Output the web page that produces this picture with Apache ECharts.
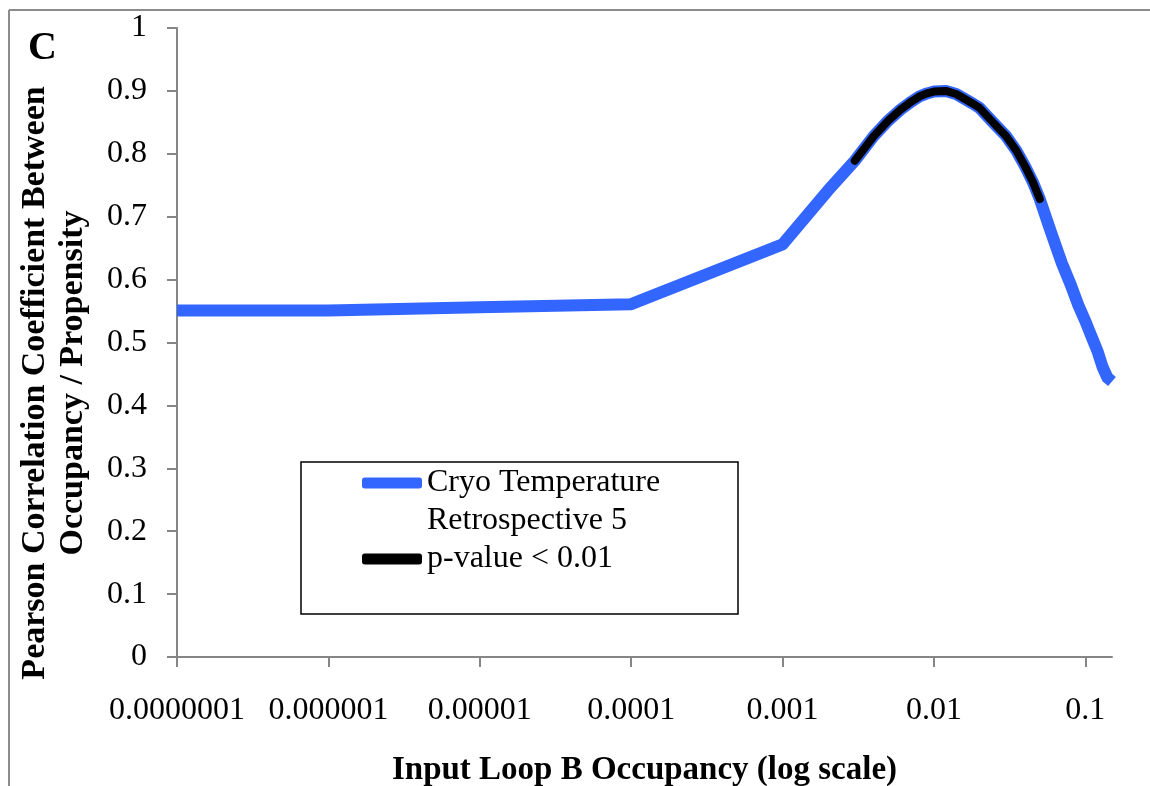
<!DOCTYPE html>
<html>
<head>
<meta charset="utf-8">
<script src="https://cdn.jsdelivr.net/npm/echarts@6.0.0/dist/echarts.min.js"></script>
<style>
  html, body { margin: 0; padding: 0; background: #fff; }
  #chart { width: 1150px; height: 786px; }
</style>
</head>
<body>
<div id="chart"></div>
<script>
// input loop B occupancy (log axis) and the pearson correlation
const occupancy = [1e-7, 1e-6, 1e-5, 1e-4, 1e-3, 0.002, 0.003, 0.004, 0.005, 0.006, 0.007, 0.008, 0.009,
  0.01, 0.012, 0.014, 0.016, 0.018, 0.02, 0.025, 0.03, 0.035, 0.04, 0.045, 0.05,
  0.06, 0.07, 0.08, 0.09, 0.1, 0.11, 0.12, 0.13, 0.14, 0.15];
const correlation = [0.551, 0.551, 0.556, 0.561, 0.656, 0.742, 0.789, 0.828, 0.853, 0.870, 0.882, 0.891, 0.896,
  0.899, 0.900, 0.895, 0.887, 0.880, 0.873, 0.848, 0.828, 0.805, 0.780, 0.755, 0.728,
  0.672, 0.626, 0.592, 0.559, 0.534, 0.509, 0.487, 0.461, 0.444, 0.438];
// range where p-value < 0.01
const sigFrom = 0.003;
const sigTo = 0.05;

const xTicks = [1e-7, 1e-6, 1e-5, 1e-4, 1e-3, 1e-2, 1e-1];
const xTickLabels = ['0.0000001', '0.000001', '0.00001', '0.0001', '0.001', '0.01', '0.1'];

const seriesNames = ['Cryo Temperature\nRetrospective 5', 'p-value < 0.01'];
const seriesColors = ['#3366ff', '#000000'];

const FONT = '"Liberation Serif", "DejaVu Serif", serif';
const AXIS_GREY = '#868686';

const mainData = occupancy.map((x, i) => [x, correlation[i]]);
const sigData = mainData.filter(d => d[0] >= sigFrom - 1e-12 && d[0] <= sigTo + 1e-12);

const chart = echarts.init(document.getElementById('chart'));

chart.setOption({
  backgroundColor: '#fff',
  animation: false,
  grid: { left: 177, right: 38, top: 28, bottom: 129, outerBoundsMode: 'none', containLabel: false },
  xAxis: {
    type: 'log',
    logBase: 10,
    min: 1e-7,
    max: 0.15,
    name: 'Input Loop B Occupancy (log scale)',
    nameLocation: 'middle',
    nameGap: 97,
    nameTextStyle: { fontFamily: FONT, fontSize: 33, fontWeight: 'bold', color: '#000' },
    axisLine: { show: true, onZero: false, lineStyle: { color: AXIS_GREY, width: 2 } },
    axisTick: { show: true, length: 10, customValues: xTicks, lineStyle: { color: AXIS_GREY, width: 2 } },
    axisLabel: {
      customValues: xTicks,
      margin: 38,
      fontFamily: FONT, fontSize: 32, color: '#000',
      formatter: v => xTickLabels[Math.round(Math.log10(v)) + 7]
    },
    splitLine: { show: false }
  },
  yAxis: {
    type: 'value',
    min: 0,
    max: 1,
    interval: 0.1,
    axisLine: { show: true, lineStyle: { color: AXIS_GREY, width: 2 } },
    axisTick: { show: true, length: 10, lineStyle: { color: AXIS_GREY, width: 2 } },
    axisLabel: {
      margin: 30,
      fontFamily: FONT, fontSize: 32, color: '#000',
      formatter: v => String(Math.round(v * 10) / 10)
    },
    splitLine: { show: false }
  },
  legend: {
    orient: 'vertical',
    left: 362,
    top: 426,
    padding: 0,
    itemGap: 0,
    itemWidth: 60,
    itemHeight: 11,
    icon: 'roundRect',
    // leading blank line keeps the icon level with the first line of a two-line name
    formatter: name => name.indexOf('\n') >= 0 ? '\n' + name : name,
    textStyle: { fontFamily: FONT, fontSize: 32, lineHeight: 38, color: '#000' },
    data: seriesNames
  },
  graphic: [
    { type: 'line', shape: { x1: 9, y1: 10, x2: 9, y2: 786 }, style: { stroke: '#8c8c8c', lineWidth: 2 } },
    { type: 'line', shape: { x1: 9, y1: 10, x2: 1150, y2: 10 }, style: { stroke: '#8c8c8c', lineWidth: 2 } },
    { type: 'rect', shape: { x: 301, y: 462, width: 437, height: 152 }, style: { fill: '#fff', stroke: '#000', lineWidth: 1.5 }, z: -1 },
    { type: 'text', left: 28, top: 29, style: { text: 'C', font: 'bold 40px ' + FONT, fill: '#000' } },
    {
      type: 'text', x: 54, y: 383, rotation: Math.PI / 2,
      style: {
        text: 'Pearson Correlation Coefficient Between\nOccupancy / Propensity',
        font: 'bold 34px ' + FONT, lineHeight: 38, fill: '#000',
        align: 'center', verticalAlign: 'middle'
      }
    }
  ],
  series: [
    {
      name: seriesNames[0],
      type: 'line',
      data: mainData,
      showSymbol: false,
      symbol: 'none',
      color: seriesColors[0],
      lineStyle: { color: seriesColors[0], width: 12, cap: 'butt', join: 'round' },
      z: 2
    },
    {
      name: seriesNames[1],
      type: 'line',
      data: sigData,
      showSymbol: false,
      symbol: 'none',
      color: seriesColors[1],
      lineStyle: { color: seriesColors[1], width: 8, cap: 'round', join: 'round' },
      z: 3
    }
  ]
});
</script>
</body>
</html>
